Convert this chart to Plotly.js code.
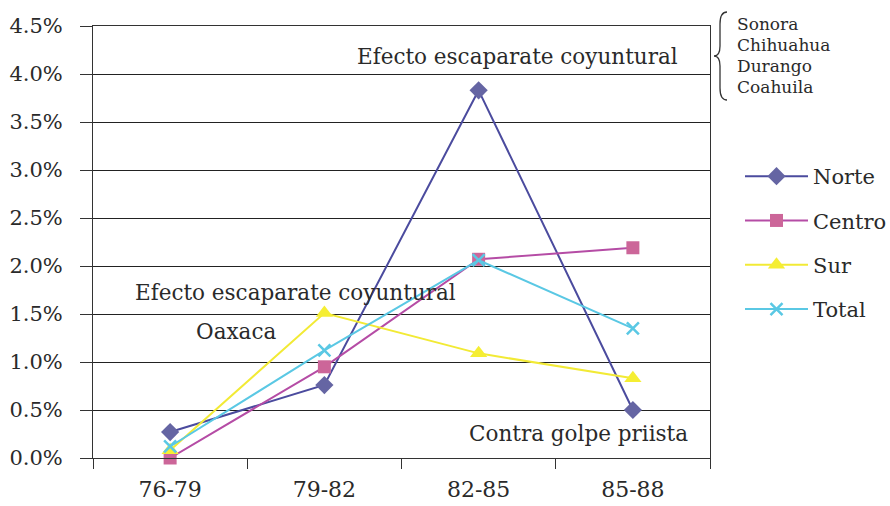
<!DOCTYPE html>
<html>
<head>
<meta charset="utf-8">
<script src="https://cdn.plot.ly/plotly-3.0.1.min.js"></script>
<style>html,body{margin:0;padding:0;background:#fff;}</style>
</head>
<body>
<div id="chart" style="width:890px;height:506px;"></div>
<script>
var categories = ['76-79', '79-82', '82-85', '85-88'];
var norte  = [0.0027, 0.0076, 0.0383, 0.0050];
var centro = [0.0000, 0.0095, 0.0207, 0.0219];
var sur    = [0.0008, 0.0151, 0.0109, 0.0083];
var total  = [0.0012, 0.0112, 0.0206, 0.0135];
var estadosNorte = ['Sonora', 'Chihuahua', 'Durango', 'Coahuila'];

var FONT = 'DejaVu Serif, Liberation Serif, serif';
var L = 93, R = 180, T = 26, B = 48, W = 890, H = 506;
var pw = W - L - R, ph = H - T - B;
function px(x) { return (x - L) / pw; }
function py(y) { return (H - B - y) / ph; }

function mk(name, y, lineColor, markerColor, symbol, size, group) {
  return {
    x: categories, y: y, name: name, type: 'scatter', mode: 'lines+markers',
    legendgroup: group,
    line: {color: lineColor, width: 2},
    marker: {color: markerColor, symbol: symbol, size: size,
             line: {color: markerColor, width: symbol === 'x-thin' ? 2.5 : 0}},
    cliponaxis: false
  };
}
var traces = [
  mk('Norte', norte, '#4b4b9e', '#6565a3', 'diamond', 14, 'a'),
  mk('Centro', centro, '#b54ca5', '#cc6699', 'square', 13, 'b'),
  mk('Sur', sur, '#f2ea35', '#f5ee33', 'triangle-up', 15, 'c'),
  mk('Total', total, '#5ac8e4', '#5ac8e4', 'x-thin', 12, 'd')
];

var bp = [[727,12],[720,12],[720,24],[720,46],[720,56],[714,56],[720,56],[720,66],[720,88],[720,100],[727,100]];
function P(i){ return px(bp[i][0]) + ',' + py(bp[i][1]); }
var bracePath = 'M ' + P(0) + ' Q ' + P(1) + ' ' + P(2) + ' L ' + P(3) + ' Q ' + P(4) + ' ' + P(5) +
  ' Q ' + P(6) + ' ' + P(7) + ' L ' + P(8) + ' Q ' + P(9) + ' ' + P(10);

var annotations = [
  {x: 2.25, y: 0.0418, text: 'Efecto escaparate coyuntural', showarrow: false, xref: 'x', yref: 'y', font: {size: 21.5}},
  {x: 0.81, y: 0.0172, text: 'Efecto escaparate coyuntural', showarrow: false, xref: 'x', yref: 'y', font: {size: 21.5}},
  {x: 0.43, y: 0.0132, text: 'Oaxaca', showarrow: false, xref: 'x', yref: 'y', font: {size: 21.5}},
  {x: 2.65, y: 0.0026, text: 'Contra golpe priista', showarrow: false, xref: 'x', yref: 'y', font: {size: 21.5}}
];
var rowY = [24, 45, 66, 87];
estadosNorte.forEach(function(s, i) {
  annotations.push({x: px(735), y: py(rowY[i]), xref: 'paper', yref: 'paper', xanchor: 'left',
    yanchor: 'middle', text: s, showarrow: false, font: {size: 17}});
});

var layout = {
  width: W, height: H,
  margin: {l: L, r: R, t: T, b: B, autoexpand: false},
  paper_bgcolor: '#fff', plot_bgcolor: '#fff',
  font: {family: FONT, color: '#2a2a2a', size: 18},
  showlegend: true,
  legend: {x: px(740), y: py(156), xanchor: 'left', yanchor: 'top', font: {size: 21},
           tracegroupgap: 14, itemwidth: 63, bgcolor: 'rgba(0,0,0,0)'},
  xaxis: {type: 'category', range: [-0.5, 3.5], showline: true, linecolor: '#333', linewidth: 1,
          mirror: true, ticks: 'outside', tickson: 'boundaries', ticklen: 10, tickcolor: '#333',
          showgrid: false, zeroline: false, tickfont: {size: 22}, ticklabelstandoff: 12},
  yaxis: {range: [0, 0.045], dtick: 0.005, tickformat: '.1%', showline: true, linecolor: '#333',
          linewidth: 1, mirror: true, ticks: 'outside', ticklen: 12, tickcolor: '#333',
          showgrid: true, gridcolor: '#222', gridwidth: 1, zeroline: false, tickfont: {size: 21},
          ticklabelstandoff: 13},
  annotations: annotations,
  shapes: [{type: 'path', xref: 'paper', yref: 'paper', path: bracePath,
            line: {color: '#333', width: 1.3}}]
};

Plotly.newPlot('chart', traces, layout, {displayModeBar: false, staticPlot: true});
</script>
</body>
</html>
